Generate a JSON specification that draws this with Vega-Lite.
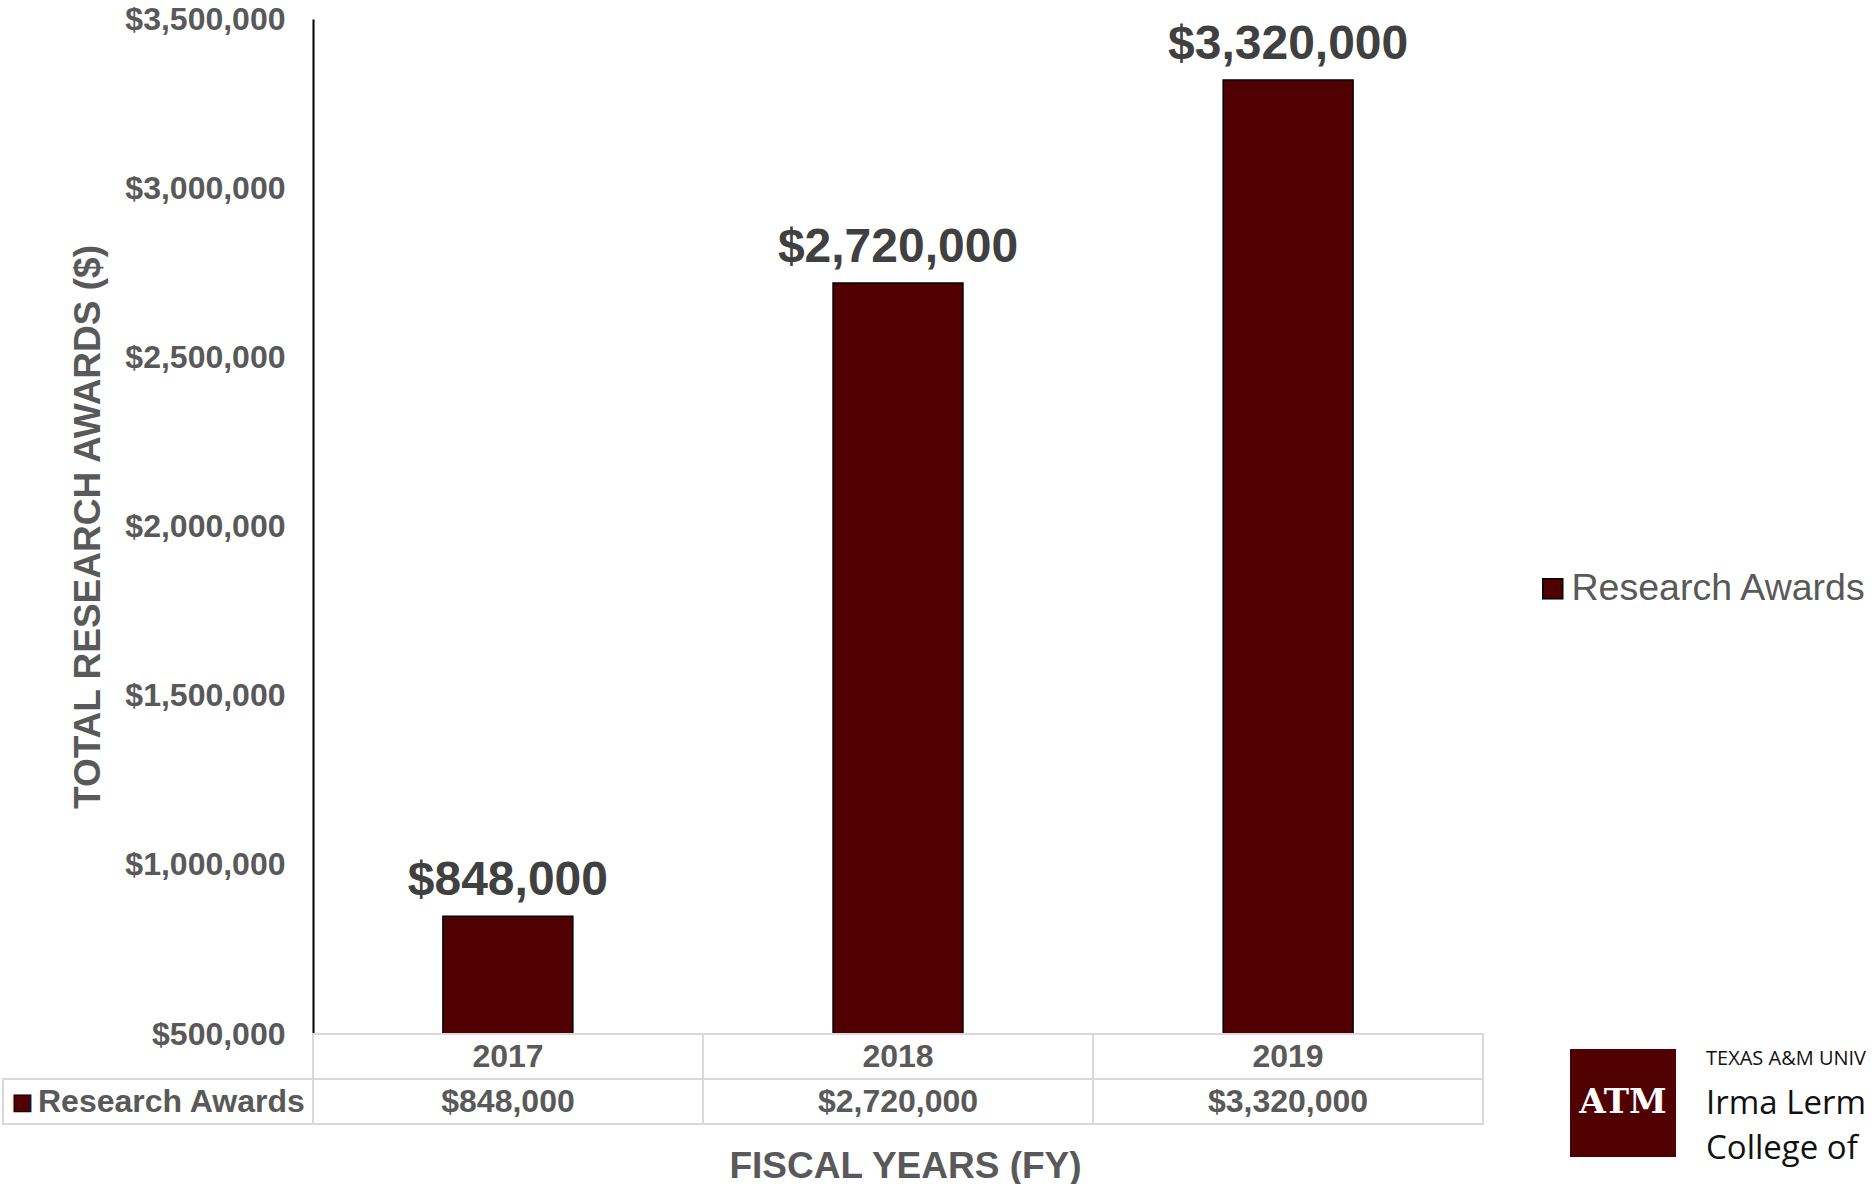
{
  "$schema": "https://vega.github.io/schema/vega-lite/v6.json",
  "padding": {"left": 2, "top": 3, "right": 0, "bottom": 0},
  "autosize": {"type": "pad"},
  "background": "white",
  "config": {"view": {"stroke": null}, "font": "Liberation Sans"},
  "datasets": {
    "awards": [
      {"year": "2017", "awards": 848000, "series": "Research Awards"},
      {"year": "2018", "awards": 2720000, "series": "Research Awards"},
      {"year": "2019", "awards": 3320000, "series": "Research Awards"}
    ],
    "table": [
      {"year": "2017", "row": "FY", "text": "2017"},
      {"year": "2018", "row": "FY", "text": "2018"},
      {"year": "2019", "row": "FY", "text": "2019"},
      {"year": "2017", "row": "Research Awards", "text": "$848,000"},
      {"year": "2018", "row": "Research Awards", "text": "$2,720,000"},
      {"year": "2019", "row": "Research Awards", "text": "$3,320,000"}
    ],
    "rowlabel": [{"series": "Research Awards", "row": "Research Awards"}],
    "logo": [
      {"line": "TEXAS A&M UNIVERSITY"},
      {"line": "Irma Lerma Rangel"},
      {"line": "College of Pharmacy"}
    ],
    "emblem": [{"mark": "ATM"}]
  },
  "bounds": "flush",
  "spacing": 0,
  "resolve": {"scale": {"x": "independent", "y": "independent", "color": "independent"}},
  "vconcat": [
    {
      "width": 1170,
      "height": 1015,
      "data": {"name": "awards"},
      "encoding": {
        "x": {"field": "year", "type": "nominal", "scale": {"paddingInner": 0.667, "paddingOuter": 0.333}, "axis": null},
        "y": {
          "field": "awards", "type": "quantitative",
          "scale": {"domain": [500000, 3500000], "zero": false, "nice": false},
          "axis": {
            "title": "TOTAL RESEARCH AWARDS ($)",
            "titleFontSize": 37, "titleFontWeight": "bold", "titleColor": "#595959", "titlePadding": 17,
            "values": [500000, 1000000, 1500000, 2000000, 2500000, 3000000, 3500000],
            "format": "$,.0f",
            "labelFontSize": 32, "labelFontWeight": "bold", "labelColor": "#595959", "labelPadding": 28,
            "labelFlush": false, "labelOverlap": false,
            "ticks": false, "grid": false, "domainColor": "#000000", "domainWidth": 2
          }
        }
      },
      "layer": [
        {
          "mark": {"type": "bar", "stroke": "#000000", "strokeWidth": 1.5},
          "encoding": {
            "y2": {"datum": 500000},
            "color": {
              "field": "series", "type": "nominal",
              "scale": {"range": ["#500000"]},
              "legend": {
                "orient": "none", "legendX": 1221, "legendY": 551, "title": null,
                "symbolType": "square", "symbolSize": 400,
                "symbolStrokeColor": "#000000", "symbolStrokeWidth": 1.5,
                "labelFontSize": 37.5, "labelColor": "#595959", "labelOffset": 0, "labelLimit": 400
              }
            }
          }
        },
        {
          "mark": {"type": "text", "baseline": "alphabetic", "dy": -21, "fontSize": 48, "fontWeight": "bold", "color": "#404040"},
          "encoding": {"text": {"field": "awards", "type": "quantitative", "format": "$,.0f"}}
        }
      ]
    },
    {
      "width": 1170,
      "height": 90,
      "resolve": {"scale": {"x": "independent", "y": "independent"}},
      "layer": [
        {
          "data": {"name": "table"},
          "mark": {"type": "rect", "fill": "#ffffff", "fillOpacity": 0, "stroke": "#d9d9d9", "strokeWidth": 2},
          "encoding": {
            "x": {"field": "year", "type": "ordinal", "scale": {"paddingInner": 0, "paddingOuter": 0},
              "axis": {"title": "FISCAL YEARS (FY)", "labels": false, "ticks": false, "domain": false,
                "titleFontSize": 37, "titleFontWeight": "bold", "titleColor": "#595959", "titlePadding": 24, "titleX": 592}},
            "y": {"field": "row", "type": "nominal", "scale": {"domain": ["FY", "Research Awards"], "paddingInner": 0, "paddingOuter": 0}, "axis": null}
          }
        },
        {
          "data": {"name": "table"},
          "mark": {"type": "text", "fontSize": 32, "fontWeight": "bold", "color": "#595959"},
          "encoding": {
            "x": {"field": "year", "type": "ordinal", "scale": {"paddingInner": 0, "paddingOuter": 0}, "axis": null},
            "y": {"field": "row", "type": "nominal", "scale": {"domain": ["FY", "Research Awards"], "paddingInner": 0, "paddingOuter": 0}, "axis": null},
            "text": {"field": "text"}
          }
        },
        {
          "data": {"name": "rowlabel"},
          "mark": {"type": "rect", "fill": "#ffffff", "fillOpacity": 0, "stroke": "#d9d9d9", "strokeWidth": 2},
          "encoding": {
            "x": {"field": "series", "type": "nominal", "scale": {"range": [-310, 0], "paddingInner": 0, "paddingOuter": 0}, "axis": null},
            "y": {"field": "row", "type": "nominal", "scale": {"domain": ["FY", "Research Awards"], "paddingInner": 0, "paddingOuter": 0}, "axis": null}
          }
        },
        {
          "data": {"name": "rowlabel"},
          "mark": {"type": "text", "text": "■", "align": "left", "dx": -146, "fontSize": 22, "font": "DejaVu Sans", "fill": "#500000", "stroke": "#000000", "strokeWidth": 1},
          "encoding": {
            "x": {"field": "series", "type": "nominal", "scale": {"range": [-310, 0], "paddingInner": 0, "paddingOuter": 0}, "axis": null},
            "y": {"field": "row", "type": "nominal", "scale": {"domain": ["FY", "Research Awards"], "paddingInner": 0, "paddingOuter": 0}, "axis": null}
          }
        },
        {
          "data": {"name": "rowlabel"},
          "mark": {"type": "text", "align": "left", "dx": -120, "fontSize": 32, "fontWeight": "bold", "color": "#595959"},
          "encoding": {
            "x": {"field": "series", "type": "nominal", "scale": {"range": [-310, 0], "paddingInner": 0, "paddingOuter": 0}, "axis": null},
            "y": {"field": "row", "type": "nominal", "scale": {"domain": ["FY", "Research Awards"], "paddingInner": 0, "paddingOuter": 0}, "axis": null},
            "text": {"field": "series"}
          }
        },
        {
          "data": {"name": "emblem"},
          "mark": {"type": "rect", "fill": "#500000"},
          "encoding": {
            "x": {"field": "mark", "type": "nominal", "scale": {"range": [1257, 1363], "paddingInner": 0, "paddingOuter": 0}, "axis": null},
            "y": {"field": "mark", "type": "nominal", "scale": {"range": [15, 123], "paddingInner": 0, "paddingOuter": 0}, "axis": null}
          }
        },
        {
          "data": {"name": "emblem"},
          "mark": {"type": "text", "font": "DejaVu Serif", "fontWeight": "bold", "fontSize": 34, "fill": "#ffffff"},
          "encoding": {
            "x": {"field": "mark", "type": "nominal", "scale": {"range": [1257, 1363], "paddingInner": 0, "paddingOuter": 0}, "axis": null},
            "y": {"field": "mark", "type": "nominal", "scale": {"range": [15, 123], "paddingInner": 0, "paddingOuter": 0}, "axis": null},
            "text": {"field": "mark"}
          }
        },
        {
          "data": {"name": "logo"},
          "mark": {"type": "text", "align": "left", "font": "Open Sans", "color": "#111111", "limit": 168, "ellipsis": "\u200b"},
          "encoding": {
            "x": {"datum": "logo", "type": "nominal", "scale": {"domain": ["logo"], "range": [1350, 1436], "paddingInner": 0, "paddingOuter": 0}, "axis": null},
            "y": {"field": "line", "type": "nominal", "sort": null, "scale": {"range": [3, 137], "paddingInner": 0, "paddingOuter": 0}, "axis": null},
            "size": {"condition": {"test": "datum.line === 'TEXAS A&M UNIVERSITY'", "value": 20}, "value": 33},
            "text": {"field": "line"}
          }
        }
      ]
    }
  ]
}
